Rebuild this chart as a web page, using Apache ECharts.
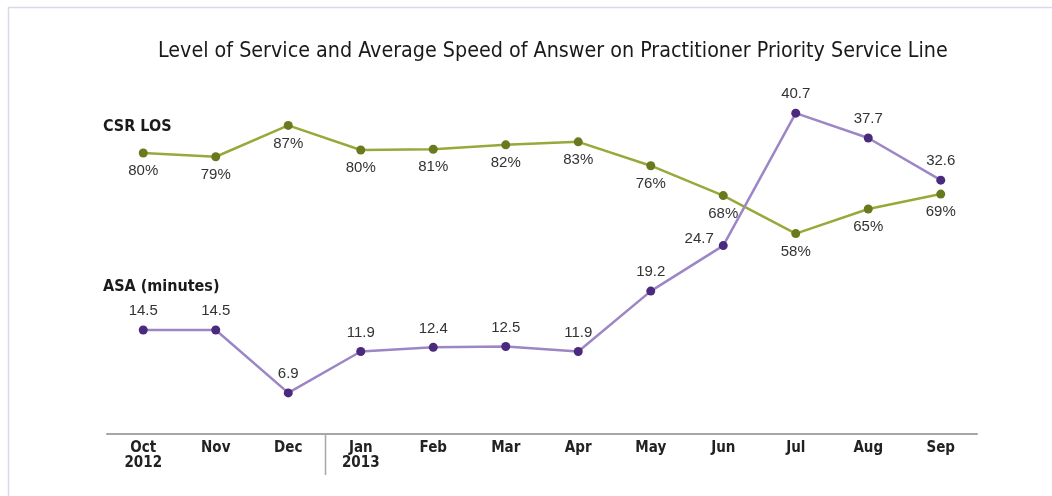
<!DOCTYPE html>
<html>
<head>
    <meta charset="utf-8">
    <title>Level of Service and ASA</title>
    <style>
        html, body { margin: 0; padding: 0; background: #fff; }
        #main { width: 1052px; height: 496px; }
    </style>
</head>
<body>
<div id="main"></div>
<script src="https://cdn.jsdelivr.net/npm/echarts@6/dist/echarts.min.js"></script>
<script>
    // months, Oct 2012 - Sep 2013
    var months = ['Oct\n2012', 'Nov', 'Dec', 'Jan\n2013', 'Feb', 'Mar', 'Apr', 'May', 'Jun', 'Jul', 'Aug', 'Sep'];
    // CSR level of service (%)
    var csrLos = [79.6, 78.6, 87, 80.4, 80.6, 81.8, 82.6, 76.2, 68.2, 58, 64.6, 68.6];
    // average speed of answer (minutes)
    var asaMinutes = [14.5, 14.5, 6.9, 11.9, 12.4, 12.5, 11.9, 19.2, 24.7, 40.7, 37.7, 32.6];
    // where the ASA label sits for each point
    var asaLabelPos = ['top', 'top', 'top', 'top', 'top', 'top', 'top', 'top', 'left', 'top', 'top', 'top'];

    var narrow = '"DejaVu Sans Condensed", "Liberation Sans Narrow", sans-serif';
    var plain = '"Liberation Sans", Arial, sans-serif';

    var chart = echarts.init(document.getElementById('main'));

    var asaData = asaMinutes.map(function (v, i) {
        var left = asaLabelPos[i] === 'left';
        return {
            value: v,
            label: { position: asaLabelPos[i], distance: left ? 5 : 7, offset: left ? [0, -7] : [0, 0] }
        };
    });

    var option = {
        animation: false,
        backgroundColor: '#fff',
        title: {
            text: 'Level of Service and Average Speed of Answer on Practitioner Priority Service Line',
            left: 153,
            top: 36,
            textStyle: {
                fontFamily: narrow,
                fontSize: 21.3,
                fontWeight: 'normal',
                color: '#1a1a1a'
            }
        },
        graphic: [
            {
                type: 'rect',
                shape: { x: 8.5, y: 7.5, width: 1100, height: 600 },
                style: { fill: 'none', stroke: '#d9d9ea', lineWidth: 1.5 },
                silent: true
            },
            {
                type: 'text', left: 103, top: 119,
                style: { text: 'CSR LOS', font: 'bold 16px ' + narrow, fill: '#1a1a1a' }
            },
            {
                type: 'text', left: 103, top: 279,
                style: { text: 'ASA (minutes)', font: 'bold 16px ' + narrow, fill: '#1a1a1a' }
            }
        ],
        grid: { left: 107, right: 75, top: 37, bottom: 46 },
        xAxis: {
            type: 'category',
            data: months,
            boundaryGap: true,
            offset: -16,
            axisLine: { lineStyle: { color: '#a6a6a6', width: 2 } },
            axisTick: { show: false },
            axisLabel: {
                margin: 7,
                fontFamily: narrow,
                fontSize: 15,
                fontWeight: 'bold',
                lineHeight: 15,
                color: '#222'
            },
            splitLine: { show: false }
        },
        yAxis: [
            { type: 'value', min: 0, max: 110.7, show: false, splitLine: { show: false } },
            { type: 'value', min: 0, max: 49.9, show: false, splitLine: { show: false } }
        ],
        series: [
            {
                name: 'CSR LOS',
                type: 'line',
                yAxisIndex: 0,
                data: csrLos,
                symbol: 'circle',
                symbolSize: 9,
                lineStyle: { color: '#9aa83a', width: 2.5 },
                itemStyle: { color: '#687a1e' },
                label: {
                    show: true,
                    position: 'bottom',
                    distance: 6,
                    fontFamily: plain,
                    fontSize: 15,
                    color: '#333',
                    formatter: function (p) { return Math.round(p.value) + '%'; }
                },
                z: 3
            },
            {
                name: 'ASA (minutes)',
                type: 'line',
                yAxisIndex: 1,
                data: asaData,
                symbol: 'circle',
                symbolSize: 9,
                lineStyle: { color: '#9c86c6', width: 2.5 },
                itemStyle: { color: '#4a2a7c' },
                label: {
                    show: true,
                    fontFamily: plain,
                    fontSize: 15,
                    color: '#333',
                    formatter: function (p) { return p.value.toFixed(1); }
                },
                z: 4
            }
        ]
    };

    chart.setOption(option);

    // year divider between Dec and Jan, placed from the axis scale
    var xDec = chart.convertToPixel({ xAxisIndex: 0 }, months[2]);
    var xJan = chart.convertToPixel({ xAxisIndex: 0 }, months[3]);
    var xDiv = Math.round((xDec + xJan) / 2) + 0.5;
    var g = option.graphic.slice();
    g.push({
        type: 'line',
        shape: { x1: xDiv, y1: 434, x2: xDiv, y2: 475 },
        style: { stroke: '#a6a6a6', lineWidth: 1.5 },
        silent: true
    });
    chart.setOption({ graphic: g });
</script>
</body>
</html>
